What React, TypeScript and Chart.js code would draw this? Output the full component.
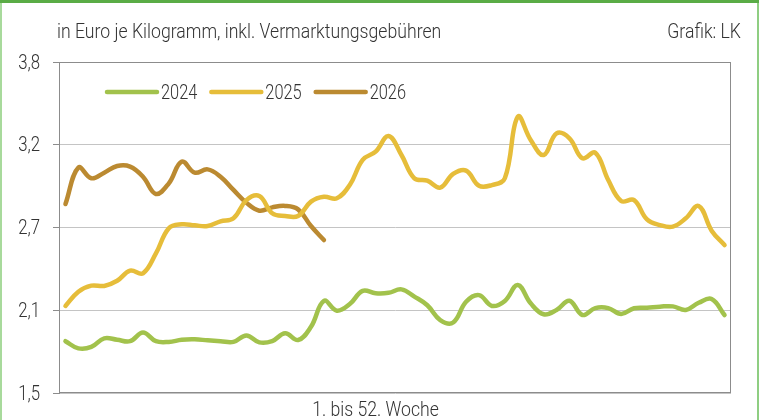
import React, { useEffect, useRef } from "react";
import { Chart, registerables } from "chart.js";

Chart.register(...registerables);

const weeks = [
  "1", "2", "3", "4", "5", "6", "7", "8", "9", "10", "11", "12", "13",
  "14", "15", "16", "17", "18", "19", "20", "21", "22", "23", "24", "25", "26",
  "27", "28", "29", "30", "31", "32", "33", "34", "35", "36", "37", "38", "39",
  "40", "41", "42", "43", "44", "45", "46", "47", "48", "49", "50", "51", "52",
];

const s2024 = [
  1.86, 1.81, 1.82, 1.88, 1.87, 1.86, 1.92, 1.86, 1.855, 1.87, 1.873, 1.866, 1.86,
  1.855, 1.9, 1.852, 1.861, 1.915, 1.868, 1.96, 2.14, 2.072, 2.118, 2.21, 2.193, 2.196,
  2.22, 2.17, 2.11, 2.007, 1.99, 2.134, 2.18, 2.105, 2.14, 2.25, 2.123, 2.047, 2.077,
  2.141, 2.042, 2.09, 2.09, 2.049, 2.089, 2.093, 2.1, 2.102, 2.077, 2.127, 2.153, 2.042,
];

const s2025 = [
  2.105, 2.204, 2.246, 2.244, 2.28, 2.35, 2.332, 2.47, 2.645, 2.672, 2.665, 2.66, 2.693,
  2.714, 2.84, 2.869, 2.749, 2.73, 2.73, 2.83, 2.864, 2.853, 2.945, 3.12, 3.177, 3.286,
  3.154, 2.992, 2.975, 2.927, 3.022, 3.045, 2.94, 2.945, 2.992, 3.42, 3.258, 3.154, 3.304,
  3.27, 3.131, 3.17, 2.98, 2.834, 2.84, 2.706, 2.667, 2.656, 2.714, 2.8, 2.628, 2.528,
];

const s2026 = [
  2.813, 3.066, 2.992, 3.031, 3.077, 3.073, 3.003, 2.883, 2.957, 3.108, 3.031, 3.054, 3.003,
  2.911, 2.822, 2.767, 2.79, 2.8, 2.776, 2.66, 2.563,
];

const seriesLabels = ["2024", "2025", "2026"];
const seriesColors = ["#a2c24c", "#e6bd3a", "#bb8a31"];

const yTickValues = [1.5, 2.075, 2.65, 3.225, 3.8];
const yTickLabels = ["1,5", "2,1", "2,7", "3,2", "3,8"];

const titleText = "in Euro je Kilogramm, inkl. Vermarktungsgebühren";
const sourceText = "Grafik: LK";
const xTitleText = "1. bis 52. Woche";

const FONT = 'Roboto, "DejaVu Sans", sans-serif';
const TEXT = "#333333";
const AXIS = "#8c8c8c";
const GRID = "#c4c4c4";
const SQUEEZE = 0.84;

function narrowText(
  ctx: CanvasRenderingContext2D,
  text: string,
  x: number,
  y: number,
  align: "left" | "right" | "center",
  size: number,
  baseline: CanvasTextBaseline = "alphabetic"
) {
  ctx.save();
  ctx.font = `300 ${size}px ${FONT}`;
  ctx.fillStyle = TEXT;
  ctx.textAlign = align;
  ctx.textBaseline = baseline;
  ctx.translate(x, y);
  ctx.scale(SQUEEZE, 1);
  ctx.fillText(text, 0, 0);
  const w = ctx.measureText(text).width * SQUEEZE;
  ctx.restore();
  return w;
}

const framePlugin = {
  id: "frame",
  beforeDraw(chart: any) {
    const { ctx, width, height } = chart;
    ctx.save();
    ctx.fillStyle = "#ffffff";
    ctx.fillRect(0, 0, width, height);
    ctx.fillStyle = "#a8da9c";
    ctx.fillRect(0, 0, 2, height);
    ctx.fillStyle = "#8fce82";
    ctx.fillRect(757, 0, 2, height);
    ctx.fillStyle = "#5aac46";
    ctx.fillRect(0, 0, 759, 3);
    ctx.restore();
  },
  beforeDatasetsDraw(chart: any) {
    const { ctx, chartArea: a } = chart;
    ctx.save();
    ctx.strokeStyle = AXIS;
    ctx.lineWidth = 1;
    ctx.strokeRect(
      Math.round(a.left) + 0.5,
      Math.round(a.top) + 0.5,
      Math.round(a.right - a.left) - 1,
      Math.round(a.bottom - a.top) - 1
    );
    ctx.restore();
  },
  afterDatasetsDraw(chart: any) {
    const { ctx } = chart;
    const yScale = chart.scales.y;
    narrowText(ctx, titleText, 57, 38, "left", 21);
    narrowText(ctx, sourceText, 741, 38, "right", 21);
    narrowText(ctx, xTitleText, 375.5, 416, "center", 21);

    yTickValues.forEach((v, i) => {
      const py = yScale.getPixelForValue(v);
      narrowText(ctx, yTickLabels[i], 40, py + 6.5, "right", 20);
    });

    // legend inside the plot
    let x = 107;
    const y = 92;
    chart.data.datasets.forEach((ds: any) => {
      ctx.save();
      ctx.strokeStyle = ds.borderColor;
      ctx.lineWidth = 4.5;
      ctx.lineCap = "round";
      ctx.beginPath();
      ctx.moveTo(x, y);
      ctx.lineTo(x + 50, y);
      ctx.stroke();
      ctx.restore();
      const w = narrowText(ctx, ds.label, x + 54, 98.5, "left", 19.5);
      x += 54 + w + 14;
    });
  },
};

export default function App() {
  const ref = useRef<HTMLCanvasElement>(null);
  useEffect(() => {
    document.body.style.margin = "0";
    const line = (label: string, data: number[], color: string) => ({
      label,
      data,
      borderColor: color,
      backgroundColor: color,
      borderWidth: 4.5,
      tension: 0.4,
      pointRadius: 0,
      fill: false,
      borderCapStyle: "round" as const,
      borderJoinStyle: "round" as const,
    });
    const chart = new Chart(ref.current!, {
      type: "line",
      data: {
        labels: weeks,
        datasets: [
          line(seriesLabels[0], s2024, seriesColors[0]),
          line(seriesLabels[1], s2025, seriesColors[1]),
          line(seriesLabels[2], s2026, seriesColors[2]),
        ],
      },
      options: {
        responsive: false,
        animation: false,
        layout: { padding: { left: 0, top: 62, right: 30, bottom: 0 } },
        plugins: { legend: { display: false }, tooltip: { enabled: false } },
        scales: {
          x: {
            type: "category",
            offset: true,
            grid: { display: false, drawTicks: false },
            border: { display: false },
            ticks: { display: false },
            afterFit: (s: any) => {
              s.height = 27;
            },
          },
          y: {
            min: 1.5,
            max: 3.8,
            afterBuildTicks: (s: any) => {
              s.ticks = yTickValues.map((v) => ({ value: v }));
            },
            ticks: { display: false },
            grid: {
              color: GRID,
              lineWidth: 1,
              drawTicks: true,
              tickLength: 6,
              tickColor: AXIS,
            },
            border: { display: true, color: AXIS },
            afterFit: (s: any) => {
              s.width = 59;
            },
          },
        },
      } as any,
      plugins: [framePlugin],
    });
    return () => chart.destroy();
  }, []);
  return (
    <canvas
      ref={ref}
      width={761}
      height={420}
      style={{ display: "block", width: 761, height: 420 }}
    />
  );
}
